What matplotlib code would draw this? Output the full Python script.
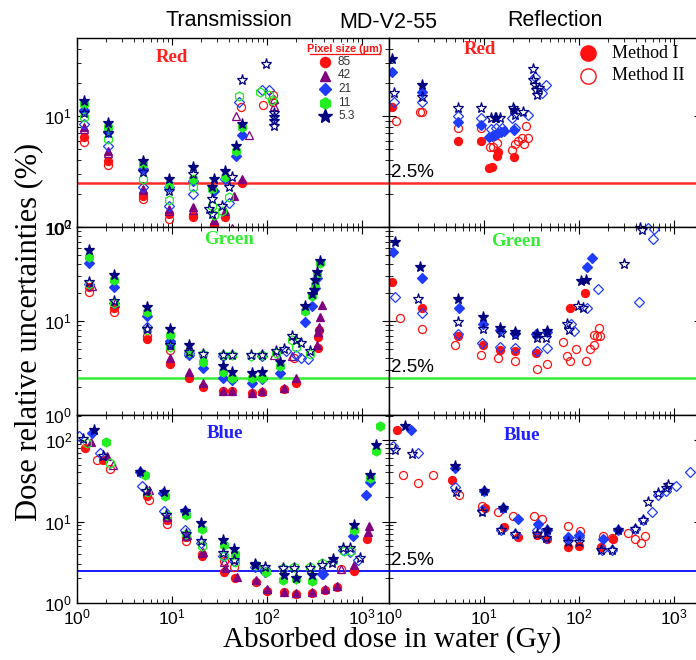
import numpy as np
import matplotlib.pyplot as plt
from matplotlib.ticker import NullFormatter

plt.rcParams['font.family'] = ['Liberation Sans', 'DejaVu Sans']

# ---------------- data: (dose Gy, relative uncertainty %) ----------------
# Transmission, red channel
tr_red_85_I = [(1.18, 6.4), (2.1, 3.9), (5.0, 1.9), (9.2, 1.3), (16.6, 1.26), (27.5, 1.05), (36.4, 1.22), (54.6, 2.5)]
tr_red_85_II = [(1.18, 5.8), (2.1, 3.6), (5.0, 1.8), (9.2, 1.17), (16.6, 1.22), (53, 12.0), (90, 12.5), (115, 15.6), (115, 13.3)]
tr_red_42_I = [(1.18, 7.9), (2.1, 4.8), (5.0, 2.2), (9.2, 1.45), (16.6, 1.5), (27.5, 1.15), (36.4, 1.4), (45, 1.9), (54.6, 2.7)]
tr_red_42_II = [(1.18, 7.6), (2.1, 4.6), (5.0, 2.15), (9.2, 1.4), (16.6, 1.43), (42.8, 0.98), (47.5, 10.0), (64, 6.8), (118, 14.1), (118, 12.3)]
tr_red_21_I = [(1.18, 11.3), (2.1, 7.1), (5.0, 3.3), (9.2, 2.3), (16.6, 2.6), (27.5, 2.1), (36.4, 2.7), (47.5, 4.4), (54.6, 6.7)]
tr_red_21_II = [(1.18, 8.4), (2.1, 5.4), (5.0, 2.3), (9.2, 1.56), (16.6, 2.0), (39.5, 1.65), (51, 13.3), (88, 17.3), (104, 17.3)]
tr_red_11_I = [(1.18, 12.7), (2.1, 8.0), (5.0, 3.7), (9.2, 2.4), (16.6, 2.7), (26.4, 2.2), (36.4, 2.85), (47.5, 4.8), (54.6, 8.0)]
tr_red_11_II = [(1.18, 9.7), (2.1, 6.2), (5.0, 2.7), (9.2, 1.75), (16.6, 2.3), (26.4, 1.56), (27.5, 1.28), (33.6, 1.4),
                (39.5, 1.85), (51, 15.1), (84, 16.4), (104, 15.6), (112, 13.9)]
tr_red_53_I = [(1.18, 13.6), (2.1, 8.6), (5.0, 3.9), (9.2, 2.7), (16.6, 3.45), (27.5, 2.7), (26.4, 2.3), (36.4, 3.2), (47.5, 5.4), (54.6, 8.4)]
tr_red_53_II = [(1.18, 10.7), (2.1, 7.0), (5.0, 3.1), (9.2, 2.1), (16.6, 3.0), (26.4, 1.8), (24.3, 1.45), (26.4, 1.3), (33.6, 1.55),
                (42.8, 2.8), (39.5, 2.3), (54.6, 21.3), (97.6, 29.5), (119, 10.7), (119, 9.7), (119, 9.0), (119, 8.2)]

# Transmission, green channel
tg_85_I = [(1.33, 23.2), (2.43, 13.8), (5.46, 6.4), (9.45, 3.5), (15.0, 2.46), (21.2, 2.0), (34.2, 1.8), (42.8, 1.8), (70, 1.7),
           (88, 1.75), (150, 1.9), (200, 2.2), (340, 5.2), (345, 6.8), (355, 8.0)]
tg_85_II = [(1.33, 20.5), (2.43, 12.4), (5.46, 7.0), (9.45, 4.9), (190, 4.0)]
tg_42_I = [(9.45, 4.0), (15.0, 2.85), (21.2, 2.2), (34.2, 1.8), (42.8, 1.8), (70, 1.7), (88, 1.8), (150, 1.95), (200, 2.5),
           (335, 5.6), (345, 7.6), (355, 8.7), (365, 11.0), (380, 14.9)]
tg_42_II = [(1.44, 23.6), (2.53, 15.6), (5.5, 8.4), (9.45, 5.5), (15.0, 4.6), (118, 4.35), (184, 4.2)]
tg_21_I = [(1.33, 41.1), (2.43, 23.2), (5.46, 11.4), (9.45, 6.2), (15.0, 4.35), (21.2, 3.2), (34.2, 2.5), (42.8, 2.35), (70, 2.2),
           (88, 2.4), (138, 2.8), (250, 9.7), (298, 14.4), (323, 22.5), (336, 28.8)]
tg_21_II = [(1.33, 24.5), (2.43, 15.6), (5.46, 8.7), (9.45, 5.8), (15.0, 4.6), (34.2, 4.2), (88, 4.2), (160, 4.8), (200, 4.4),
            (225, 4.0), (270, 3.9)]
tg_11_I = [(1.33, 48.4), (2.43, 27.3), (5.46, 12.4), (9.45, 7.1), (15.0, 4.7), (21.2, 3.7), (34.2, 2.9), (42.8, 2.5), (70, 2.45),
           (88, 2.5), (138, 3.3), (253, 12.7), (298, 18.6), (323, 24.2), (336, 32.0), (364, 41.0)]
tg_11_II = [(1.33, 25.0), (2.43, 15.4), (5.46, 8.0), (9.45, 5.3), (15.0, 4.7), (21.2, 4.45), (34.2, 4.3), (42.8, 4.3), (67, 4.25),
            (88, 4.3), (125, 4.6), (184, 6.3), (200, 5.3), (286, 4.5)]
tg_53_I = [(1.33, 56.9), (2.43, 30.8), (5.46, 14.2), (9.45, 8.2), (15.0, 5.6), (34.2, 3.3), (42.8, 2.9), (70, 2.8), (88, 2.9),
           (138, 3.7), (253, 14.6), (298, 19.6), (310, 21.2), (323, 27.3), (336, 33.5), (364, 44.0)]
tg_53_II = [(1.33, 26.2), (2.43, 16.4), (5.46, 8.2), (9.45, 5.6), (15.0, 4.7), (21.2, 4.5), (34.2, 4.35), (42.8, 4.3), (67, 4.3),
            (88, 4.3), (125, 4.8), (150, 5.0), (184, 6.9), (200, 6.3), (225, 5.8), (286, 4.8)]

# Transmission, blue channel
tb_85_I = [(1.22, 80), (1.9, 57), (5.5, 20.5), (8.9, 10.5), (14.2, 6.4), (20.5, 3.8), (35, 2.4), (46, 2.0), (76, 1.8), (100, 1.4),
           (150, 1.35), (200, 1.3), (300, 1.33), (410, 1.45), (540, 1.55), (830, 2.5), (1120, 6.1)]
tb_85_II = [(1.62, 57), (2.24, 44), (5.68, 18.2), (8.9, 9.4), (14.2, 5.8), (20.5, 4.0), (35, 3.3), (45, 2.8), (600, 2.6)]
tb_42_I = [(1.4, 94), (2.07, 64), (5.68, 24.6), (8.9, 11.5), (14.5, 6.8), (21, 4.2), (36, 2.7), (48, 2.1), (76, 1.9), (100, 1.5),
           (152, 1.38), (200, 1.33), (300, 1.37), (410, 1.5), (540, 1.6), (830, 2.9), (1150, 7.4), (1170, 8.7)]
tb_42_II = [(2.4, 49), (14.2, 6.6), (20.5, 4.1), (35, 3.2), (600, 2.6)]
tb_21_I = [(1.44, 122), (4.55, 41), (8.1, 22.4), (13.6, 13.3), (96, 2.4), (380, 2.3), (810, 6.6), (1110, 21.4), (1220, 30.6)]
tb_21_II = [(1.04, 111), (1.76, 69), (4.83, 27.5), (8.3, 13.3), (13.8, 7.9), (20.2, 5.4), (34.5, 3.8), (45, 3.3), (75, 2.8),
            (96, 2.6), (390, 2.3), (630, 4.5), (740, 4.2), (910, 3.4)]
tb_11_I = [(2.0, 94), (5.24, 37.6), (8.5, 20.5), (14, 12.1), (20.5, 8.1), (35, 5.1), (46, 4.0), (98, 2.4), (147, 1.9), (200, 1.95),
           (295, 1.85), (820, 7.9), (1220, 34.7), (1410, 73), (1560, 147)]
tb_11_II = [(1.27, 92), (2.24, 52), (5.5, 23), (8.9, 12.1), (14.2, 7.0), (20.5, 5.0), (35, 3.8), (46, 3.2), (76, 2.9), (147, 2.7),
            (194, 2.8), (285, 2.8), (380, 3.1), (500, 3.3), (640, 4.3), (760, 4.3)]
tb_53_I = [(1.5, 133), (4.64, 41), (8.3, 22.8), (13.8, 13.3), (20.2, 9.6), (34.5, 6.0), (45, 4.6), (74, 2.9), (150, 2.2), (200, 2.0),
           (300, 2.2), (500, 3.5), (820, 9.1), (1220, 37.6), (1410, 87)]
tb_53_II = [(1.17, 104), (1.88, 64), (5.36, 24), (8.7, 12.1), (14, 7.1), (20.2, 5.8), (34.5, 4.1), (45, 3.4), (75, 3.0), (96, 2.8),
            (147, 2.7), (194, 2.7), (285, 2.7), (380, 2.9), (485, 3.1), (630, 4.7), (750, 4.7), (940, 3.6)]

# Reflection, red channel
rr_85_I = [(1.08, 12.0), (5.37, 5.9), (9.35, 6.0), (11.4, 3.4), (12.0, 3.5), (13.6, 4.4), (14.2, 4.7), (20.5, 4.3)]
rr_85_II = [(1.18, 9.1), (2.1, 10.9), (2.25, 10.9), (5.37, 7.8), (9.35, 7.8), (11.6, 5.3), (12.4, 5.3), (13.6, 5.7), (19.5, 4.9),
            (21, 5.6), (23, 5.9), (24.8, 6.3), (26.5, 5.6), (28.8, 6.3), (27.5, 8.1)]
rr_21_I = [(1.08, 25.1), (2.22, 16.6), (5.37, 8.9), (9.35, 8.3), (11.4, 6.4), (12.2, 6.6), (13.0, 6.8), (14.0, 7.0), (15.0, 7.1),
           (16.2, 7.3), (20.5, 7.5)]
rr_21_II = [(1.13, 13.5), (2.22, 13.5), (5.37, 9.9), (9.35, 9.5), (11.8, 7.6), (13.5, 7.8), (15.4, 7.8), (19.5, 9.6), (21, 7.8),
            (28.8, 10.2), (34, 22.6), (40.3, 16.0), (45.3, 19.0), (530, 0.97)]
rr_53_I = [(1.08, 32.6), (2.22, 19.0), (13.5, 9.5), (20.5, 11.3)]
rr_53_II = [(1.13, 16.0), (2.22, 14.9), (5.37, 11.7), (9.35, 11.8), (11.8, 9.6), (13, 9.6), (14.6, 9.6), (20, 11.7), (21, 10.2),
            (26, 10.9), (32.8, 26.3), (33, 21.3), (34, 19.0), (35, 17.0), (36, 15.3), (38, 18.0), (440, 0.97)]

# Reflection, green channel
rg_85_I = [(1.07, 25.8), (2.2, 13.9), (5.3, 7.0), (9.8, 5.5), (14.8, 4.9), (21, 4.8), (35, 4.6), (81, 13.9), (116, 19.7)]
rg_85_II = [(1.3, 10.7), (2.25, 8.2), (5.0, 5.5), (9.2, 4.4), (14.2, 4.0), (21, 3.75), (36, 3.1), (46, 3.5), (67, 6.0), (74, 4.2),
            (81, 3.75), (93, 5.0), (118, 3.75), (131, 5.0), (143, 7.1), (145, 5.6), (154, 7.0), (163, 8.5), (166, 6.9)]
rg_21_I = [(1.1, 54.7), (2.2, 28.9), (5.4, 13.6), (9.85, 9.4), (14.8, 8.0), (21, 7.4), (35, 7.2), (46, 7.6), (122, 37.8), (137, 47.2)]
rg_21_II = [(1.15, 18.1), (2.25, 12.1), (5.3, 7.2), (9.6, 5.8), (14.8, 5.3), (21, 5.2), (36, 4.8), (46, 5.1), (83, 9.2), (88, 7.8),
            (122, 13.7), (158, 21.9), (424, 15.8), (595, 74.6), (620, 95)]
rg_53_I = [(1.15, 69.8), (2.14, 37.8), (5.29, 17.1), (9.7, 10.9), (14.8, 8.5), (21, 7.7), (36.2, 7.2), (46, 7.8), (104, 26.7), (118, 27.3)]
rg_53_II = [(2.0, 17.1), (5.3, 9.8), (9.8, 8.2), (15, 7.4), (21, 7.1), (36, 6.6), (45, 6.6), (75, 9.4), (78, 8.0), (97, 14.6),
            (111, 13.7), (298, 40.1), (460, 93)]

# Reflection, blue channel
rb_85_I = [(1.2, 134), (4.56, 32.6), (10.3, 14.6), (16.1, 8.6), (22.8, 6.5), (36.2, 6.9), (46, 6.1), (77, 4.9), (101, 5.0),
           (169, 4.8), (230, 6.1)]
rb_85_II = [(1.41, 37.6), (2.0, 29.7), (2.87, 37.6), (5.4, 21.4), (9.5, 15.4), (14.2, 13.0), (20, 11.6), (33.4, 11.8), (41, 10.7),
            (77, 8.9), (103, 7.6), (177, 6.7), (220, 6.3), (325, 7.2), (390, 6.1), (450, 5.4), (490, 6.7)]
rb_21_I = [(1.72, 134), (5.0, 45), (9.9, 23.4), (15.8, 14.6), (22.8, 10.7), (37, 9.4), (46, 7.8), (77, 6.5), (101, 6.9), (177, 6.1),
           (254, 7.9)]
rb_21_II = [(1.1, 83.6), (2.03, 69), (5.0, 26.5), (9.5, 13.7), (15, 7.9), (21.4, 7.1), (36, 7.9), (45, 6.3), (76, 6.3), (101, 6.4),
            (174, 4.5), (224, 4.5), (390, 8.1), (474, 10.3), (590, 13.0), (675, 21.4), (825, 23.4), (1050, 27.5), (1480, 40.1)]
rb_53_I = [(1.49, 147), (5.0, 47.5), (9.9, 23.4), (15.8, 14.6), (46, 7.8), (254, 7.9)]
rb_53_II = [(1.17, 74.7), (1.75, 68), (5.1, 22.8), (9.6, 13.0), (15, 7.9), (21.4, 7.1), (36, 7.1), (45, 6.3), (77, 5.6), (100, 5.6),
            (169, 4.5), (220, 4.5), (385, 8.1), (474, 10.3), (527, 17.2), (675, 22.4), (830, 25.8), (870, 28.3)]

pixel_sizes = ["85", "42", "21", "11", "5.3"]
threshold = 2.5

# marker, colour, size for each pixel size
style = {"85": ("o", "#ff1111", 5.8),
         "42": ("^", "#800080", 6.3),
         "21": ("D", "#1f3cff", 5.0),
         "11": ("h", "#22ee22", 6.5),
         "5.3": ("*", "#000080", 8.0)}

W, H = 696, 660
fig = plt.figure(figsize=(W / 100, H / 100), dpi=100)


def axes_px(x0, y0, x1, y1):
    return fig.add_axes([x0 / W, 1 - y1 / H, (x1 - x0) / W, (y1 - y0) / H])


def plot_series(ax, key, data, filled):
    m, c, s = style[key]
    d = np.array(data)
    ax.plot(d[:, 0], d[:, 1], ls="none", marker=m, ms=s, mec=c, mew=0.9,
            mfc=c if filled else "none")


rows = [(38, 227, 50.4), (227, 415, 100), (415, 603, 203)]
cols = [(77, 389), (389, 701)]
line_cols = ["#ff2a2a", "#33ee33", "#1a1aff"]
lab_cols = ["#ff2020", "#33ee33", "#2020ff"]
names = ["Red", "Green", "Blue"]

trans = [
    {"85": (tr_red_85_I, tr_red_85_II), "42": (tr_red_42_I, tr_red_42_II), "21": (tr_red_21_I, tr_red_21_II),
     "11": (tr_red_11_I, tr_red_11_II), "5.3": (tr_red_53_I, tr_red_53_II)},
    {"85": (tg_85_I, tg_85_II), "42": (tg_42_I, tg_42_II), "21": (tg_21_I, tg_21_II),
     "11": (tg_11_I, tg_11_II), "5.3": (tg_53_I, tg_53_II)},
    {"85": (tb_85_I, tb_85_II), "42": (tb_42_I, tb_42_II), "21": (tb_21_I, tb_21_II),
     "11": (tb_11_I, tb_11_II), "5.3": (tb_53_I, tb_53_II)},
]
refl = [
    {"85": (rr_85_I, rr_85_II), "21": (rr_21_I, rr_21_II), "5.3": (rr_53_I, rr_53_II)},
    {"85": (rg_85_I, rg_85_II), "21": (rg_21_I, rg_21_II), "5.3": (rg_53_I, rg_53_II)},
    {"85": (rb_85_I, rb_85_II), "21": (rb_21_I, rb_21_II), "5.3": (rb_53_I, rb_53_II)},
]

# panel label positions in pixels (left col, right col)
lab_pos = [((172, 57), (480, 50)), ((229, 240), (516, 242)), ((225, 433), (522, 435))]

for r, (y0, y1, ytop) in enumerate(rows):
    for c, (x0, x1) in enumerate(cols):
        ax = axes_px(x0, y0, x1, y1)
        ax.set_xscale("log")
        ax.set_yscale("log")
        ax.set_xlim(1, 1920)
        ax.set_ylim(1, ytop)
        ax.xaxis.set_minor_formatter(NullFormatter())
        ax.yaxis.set_minor_formatter(NullFormatter())
        ax.tick_params(which="both", direction="in", top=True, right=True, labelsize=12.5)
        ax.tick_params(which="major", length=5)
        ax.tick_params(which="minor", length=3)
        if r < 2:
            ax.tick_params(labelbottom=False)
        if c == 1:
            ax.tick_params(labelleft=False)
        for sp in ax.spines.values():
            sp.set_linewidth(1.0)

        ax.axhline(threshold, color=line_cols[r], lw=1.8 if r < 2 else 1.4, zorder=1)

        series = trans[r] if c == 0 else refl[r]
        for key in pixel_sizes:
            if key not in series:
                continue
            data_I, data_II = series[key]
            plot_series(ax, key, data_II, False)
            plot_series(ax, key, data_I, True)

        if c == 1:
            ax.text(1.04, threshold * 1.04, "2.5%", fontsize=13.5, va="bottom", ha="left")

        px, py = lab_pos[r][c]
        fig.text(px / W, 1 - py / H, names[r], color=lab_cols[r], fontsize=13.5, fontweight="bold",
                 family="Liberation Serif", ha="center", va="center")

# titles and axis labels
fig.text(229 / W, 1 - 20 / H, "Transmission", fontsize=15.5, ha="center", va="center")
fig.text(388 / W, 1 - 22 / H, "MD-V2-55", fontsize=15.5, ha="center", va="center")
fig.text(555 / W, 1 - 20 / H, "Reflection", fontsize=15.5, ha="center", va="center")
fig.text(29 / W, 1 - 332 / H, "Dose relative uncertainties (%)", rotation=90, fontsize=22,
         family="Liberation Serif", ha="center", va="center")
fig.text(392 / W, 1 - 640 / H, "Absorbed dose in water (Gy)", fontsize=21,
         family="Liberation Serif", ha="center", va="center")

# overlay in pixel coordinates for the two legends
ov = fig.add_axes([0, 0, 1, 1])
ov.set_xlim(0, W)
ov.set_ylim(H, 0)
ov.axis("off")

ov.text(345, 49, "Pixel size (\u00b5m)", color="#ff1111", fontsize=7.8, fontweight="bold",
        ha="center", va="center")
ov.plot([310, 380], [54, 54], color="#ff1111", lw=0.9)
for i, key in enumerate(pixel_sizes):
    m, col, s = style[key]
    yy = 62 + 13.5 * i
    ov.plot([325], [yy], ls="none", marker=m, ms=s * 1.25, color=col)
    ov.text(338, yy, key, fontsize=8.5, color="#333333", va="center", ha="left")

ov.plot([588], [53], ls="none", marker="o", ms=11, color="#ff1111")
ov.plot([588], [76], ls="none", marker="o", ms=11, mfc="none", mec="#ff1111", mew=1.0)
ov.text(612, 53, "Method I", fontsize=13, family="Liberation Serif", va="center", ha="left")
ov.text(612, 76, "Method II", fontsize=13, family="Liberation Serif", va="center", ha="left")

fig.savefig("out.png", dpi=100)
